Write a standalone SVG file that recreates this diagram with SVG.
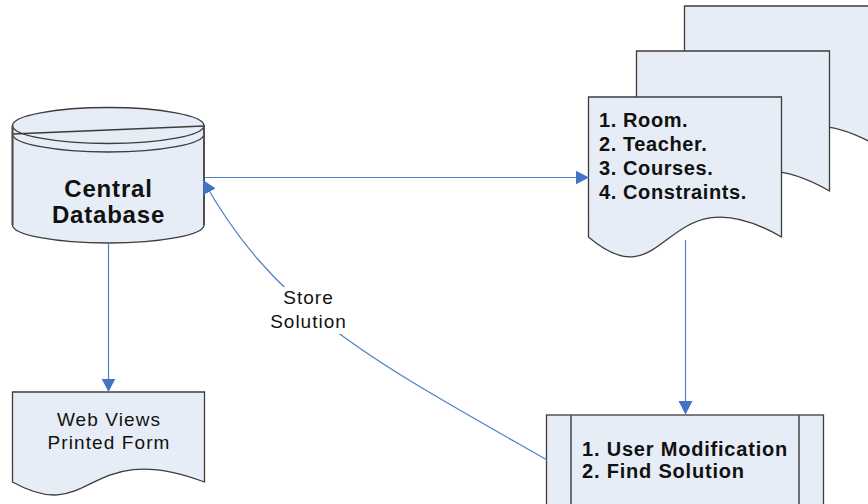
<svg xmlns="http://www.w3.org/2000/svg" width="868" height="504" viewBox="0 0 868 504">
  <style>
    .shape { fill: #E7EDF7; stroke: #3C3C3C; stroke-width: 1.3; }
    .edge { fill: none; stroke: #4F7FC7; stroke-width: 1.2; }
    .bold { font-family: "Liberation Sans", Arial, sans-serif; font-weight: bold; fill: #111; }
    .norm { font-family: "Liberation Sans", Arial, sans-serif; fill: #111; }
  </style>
  <defs>
    <marker id="arrow" markerUnits="userSpaceOnUse" markerWidth="14" markerHeight="14" viewBox="0 0 14 14" refX="13.5" refY="7" orient="auto">
      <path d="M0,0 L13.5,7 L0,14 Z" fill="#4472C4"/>
    </marker>
  </defs>
  <rect width="868" height="504" fill="#FFFFFF"/>

  <!-- stacked input documents -->
  <g id="inputs">
    <path class="shape" d="M684.5,6 H877.5 V146 C757.8,77 765.6,215 684.5,146 Z"/>
    <path class="shape" d="M636.5,51 H829.5 V191 C709.8,122 717.6,260 636.5,191 Z"/>
    <path class="shape" d="M588.5,97 H781.5 V237 C661.8,168 669.6,306 588.5,237 Z"/>
    <text class="bold" font-size="20" letter-spacing="0.6" x="599" y="127">1. Room.</text>
    <text class="bold" font-size="20" letter-spacing="0.6" x="599" y="151">2. Teacher.</text>
    <text class="bold" font-size="20" letter-spacing="0.6" x="599" y="175">3. Courses.</text>
    <text class="bold" font-size="20" letter-spacing="0.6" x="599" y="198.5">4. Constraints.</text>
  </g>

  <!-- database cylinder -->
  <g id="central-database">
    <path class="shape" d="M12.5,125.5 V225 A95.75,18 0 0 0 204,225 V125.5 Z"/>
    <ellipse class="shape" cx="108.25" cy="125.5" rx="95.75" ry="18"/>
    <path d="M12.5,134 A95.75,18 0 0 0 204,134 M12.5,134 L204,126" fill="none" stroke="#3C3C3C" stroke-width="1.3"/>
    <path d="M12.5,125.5 V225 M204,125.5 V225" fill="none" stroke="#505050" stroke-width="2"/>
    <text class="bold" font-size="24" letter-spacing="0.8" text-anchor="middle" x="108.5" y="196.5">Central</text>
    <text class="bold" font-size="24" letter-spacing="0.8" text-anchor="middle" x="108.5" y="223">Database</text>
  </g>

  <!-- output document -->
  <g id="web-views">
    <path class="shape" d="M12.5,392 H204.5 V482 C85.5,437 93.1,527 12.5,482 Z"/>
    <text class="norm" font-size="19" letter-spacing="1.1" text-anchor="middle" x="109" y="426">Web Views</text>
    <text class="norm" font-size="19" letter-spacing="1.1" text-anchor="middle" x="109" y="448.5">Printed Form</text>
  </g>

  <!-- predefined process -->
  <g id="solver">
    <rect class="shape" x="546.5" y="415" width="277" height="110" stroke="#505050" stroke-width="1.6"/>
    <path d="M571,415 V525 M799,415 V525" fill="none" stroke="#505050" stroke-width="1.6"/>
    <text class="bold" font-size="20" letter-spacing="0.8" x="582" y="456">1. User Modification</text>
    <text class="bold" font-size="20" letter-spacing="0.8" x="582" y="477.5">2. Find Solution</text>
  </g>

  <!-- connectors -->
  <g id="connectors">
    <path class="edge" d="M205,177.5 H589" marker-end="url(#arrow)"/>
    <path class="edge" d="M108.5,243 V392" marker-end="url(#arrow)"/>
    <path class="edge" d="M685.5,240 V414.5" marker-end="url(#arrow)"/>
    <path class="edge" d="M547,460 C373.4,360.8 275.8,311.3 203,180" marker-end="url(#arrow)"/>
    <rect x="266" y="287" width="84" height="47" fill="#FFFFFF"/>
    <text class="norm" font-size="19" letter-spacing="1" text-anchor="middle" x="308.5" y="304">Store</text>
    <text class="norm" font-size="19" letter-spacing="1" text-anchor="middle" x="308.5" y="328">Solution</text>
  </g>
</svg>
